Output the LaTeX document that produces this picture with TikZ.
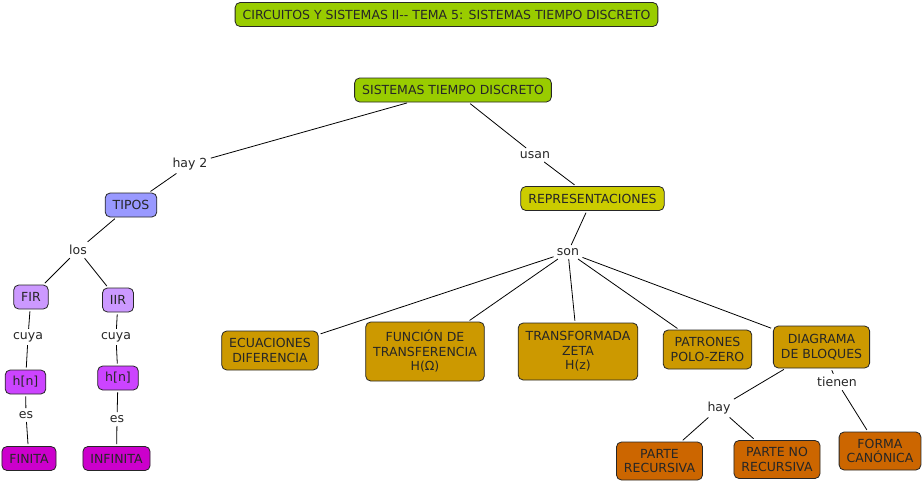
\documentclass[tikz,border=0pt]{standalone}
\usepackage{fontspec}
\setmainfont{DejaVu Sans}
\definecolor{lime}{HTML}{99CC00}
\definecolor{lavender}{HTML}{9999FF}
\definecolor{lilac}{HTML}{CC99FF}
\definecolor{violet}{HTML}{CC44FF}
\definecolor{magenta}{HTML}{CC00CC}
\definecolor{olive}{HTML}{CCCC00}
\definecolor{gold}{HTML}{CC9900}
\definecolor{rust}{HTML}{CC6600}
\begin{document}
\begin{tikzpicture}[x=1pt,y=-1pt,font=\fontsize{12.5}{14.5}\selectfont,line width=0.8pt,
  concept/.style={draw=black!85,rounded corners=5pt,inner xsep=7.5pt,inner ysep=3pt,
    minimum height=24pt,align=center,text=black!85},
  link/.style={inner sep=3pt,text=black!85}]
  \useasboundingbox (0,0) rectangle (924,483);
  % conceptos
  \node [concept,fill=lime] (title) at (446.5,14.5) {CIRCUITOS Y SISTEMAS II-{}- TEMA 5: SISTEMAS TIEMPO DISCRETO};
  \node [concept,fill=lime] (std) at (453,90) {SISTEMAS TIEMPO DISCRETO};
  \node [concept,fill=lavender] (tipos) at (131,205) {TIPOS};
  \node [concept,fill=olive] (repr) at (592.5,198.5) {REPRESENTACIONES};
  \node [concept,fill=lilac] (fir) at (31,297) {FIR};
  \node [concept,fill=lilac] (iir) at (118,300) {IIR};
  \node [concept,fill=violet] (hfir) at (25.5,382) {h[n]};
  \node [concept,fill=violet] (hiir) at (118,378) {h[n]};
  \node [concept,fill=magenta] (finita) at (29,458.5) {FINITA};
  \node [concept,fill=magenta] (infinita) at (116.5,458.5) {INFINITA};
  \node [concept,fill=gold,minimum height=39pt] (ecu) at (270,350.5) {ECUACIONES\\DIFERENCIA};
  \node [concept,fill=gold,minimum height=59pt] (fun) at (425,351.5) {FUNCIÓN DE\\TRANSFERENCIA\\H(Ω)};
  \node [concept,fill=gold,minimum height=57pt] (zeta) at (578,351.5) {TRANSFORMADA\\ZETA\\H(z)};
  \node [concept,fill=gold,minimum height=39pt] (polo) at (707.5,349.5) {PATRONES\\POLO-ZERO};
  \node [concept,fill=gold,minimum height=42pt] (diag) at (821.5,347) {DIAGRAMA\\DE BLOQUES};
  \node [concept,fill=rust,minimum height=38pt] (rec) at (659.5,461) {PARTE\\RECURSIVA};
  \node [concept,fill=rust,minimum height=38pt] (norec) at (777,459.5) {PARTE NO\\RECURSIVA};
  \node [concept,fill=rust,minimum height=38pt] (canon) at (880,451) {FORMA\\CANÓNICA};
  % enlaces
  \node [link] (hay2) at (190,164) {hay 2};
  \node [link] (usan) at (535,155) {usan};
  \node [link] (los) at (78,250) {los};
  \node [link] (son) at (568,252) {son};
  \node [link] (cuya1) at (28,337) {cuya};
  \node [link] (cuya2) at (116,337) {cuya};
  \node [link] (es1) at (26,415) {es};
  \node [link] (es2) at (117,419) {es};
  \node [link] (hay) at (719,408) {hay};
  \node [link] (tienen) at (837,382) {tienen};
  \path[draw,shorten <=2pt] (std) edge (hay2) (std) edge (usan)
    (tipos) edge (los) (repr) edge (son)
    (fir) edge (cuya1) (iir) edge (cuya2)
    (hfir) edge (es1) (hiir) edge (es2)
    (diag) edge (hay) (diag) edge (tienen);
  \path[draw,shorten >=2pt] (hay2) edge (tipos) (usan) edge (repr)
    (los) edge (fir) (los) edge (iir)
    (cuya1) edge (hfir) (cuya2) edge (hiir)
    (es1) edge (finita) (es2) edge (infinita)
    (son) edge (ecu) (son) edge (fun) (son) edge (zeta) (son) edge (polo) (son) edge (diag)
    (hay) edge (rec) (hay) edge (norec) (tienen) edge (canon);
\end{tikzpicture}
\end{document}
